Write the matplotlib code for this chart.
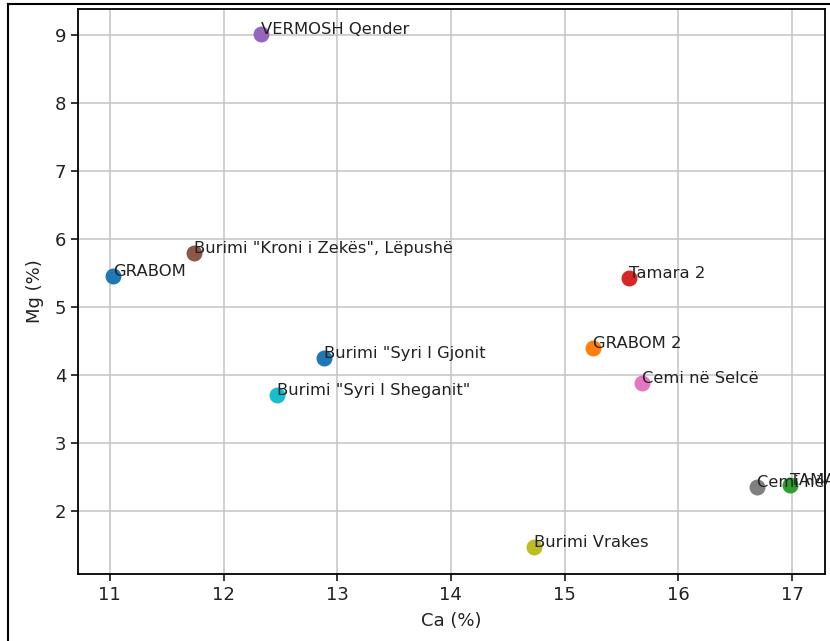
import matplotlib
matplotlib.use("Agg")
import matplotlib.pyplot as plt
from matplotlib.lines import Line2D

# sampling sites, in plotting order (tab10 colour cycle follows this order)
sites = ['GRABOM', 'GRABOM 2', 'TAMARA', 'Tamara 2', 'VERMOSH Qender',
         'Burimi "Kroni i Zekës", Lëpushë', 'Cemi në Selcë', 'Cemi në Tamarë',
         'Burimi Vrakes', 'Burimi "Syri I Sheganit"', 'Burimi "Syri I Gjonit']
ca = [11.03, 15.25, 16.98, 15.57, 12.33, 11.74, 15.68, 16.69, 14.73, 12.47, 12.88]
mg = [5.46, 4.40, 2.38, 5.43, 9.01, 5.79, 3.88, 2.35, 1.46, 3.71, 4.25]

xticks = [11, 12, 13, 14, 15, 16, 17]
yticks = [2, 3, 4, 5, 6, 7, 8, 9]

fig = plt.figure(figsize=(8.3, 6.41), dpi=100)
W, H = 830, 641
ax = fig.add_axes([78 / W, 1 - 574 / H, (825 - 78) / W, (574 - 9) / H])

colors = plt.rcParams['axes.prop_cycle'].by_key()['color']
for i, (name, x, y) in enumerate(zip(sites, ca, mg)):
    ax.scatter(x, y, s=110, color=colors[i % len(colors)], zorder=3)
    ax.text(x, y, name, fontsize=11.8, color='#222222', zorder=4,
            clip_on=False)

ax.set_xlim(10.72, 17.29)
ax.set_ylim(1.07, 9.38)
ax.set_xticks(xticks)
ax.set_yticks(yticks)
ax.tick_params(labelsize=13, length=5, width=1.1, labelcolor='#222222')
ax.grid(True, color='#c4c4c4', linewidth=1.1)
ax.set_axisbelow(True)
for sp in ax.spines.values():
    sp.set_linewidth(1.3)
ax.set_xlabel('Ca (%)', fontsize=13, labelpad=6, color='#222222')
ax.set_ylabel('Mg (%)', fontsize=13, labelpad=8, color='#222222')

# outer frame of the figure
fig.add_artist(Line2D([8 / W, 8 / W], [0, 1 - 4 / H], transform=fig.transFigure,
                      color='black', linewidth=1.5))
fig.add_artist(Line2D([8 / W, 1], [1 - 4 / H, 1 - 4 / H], transform=fig.transFigure,
                      color='black', linewidth=1.5))

fig.savefig('out.png', dpi=100)
